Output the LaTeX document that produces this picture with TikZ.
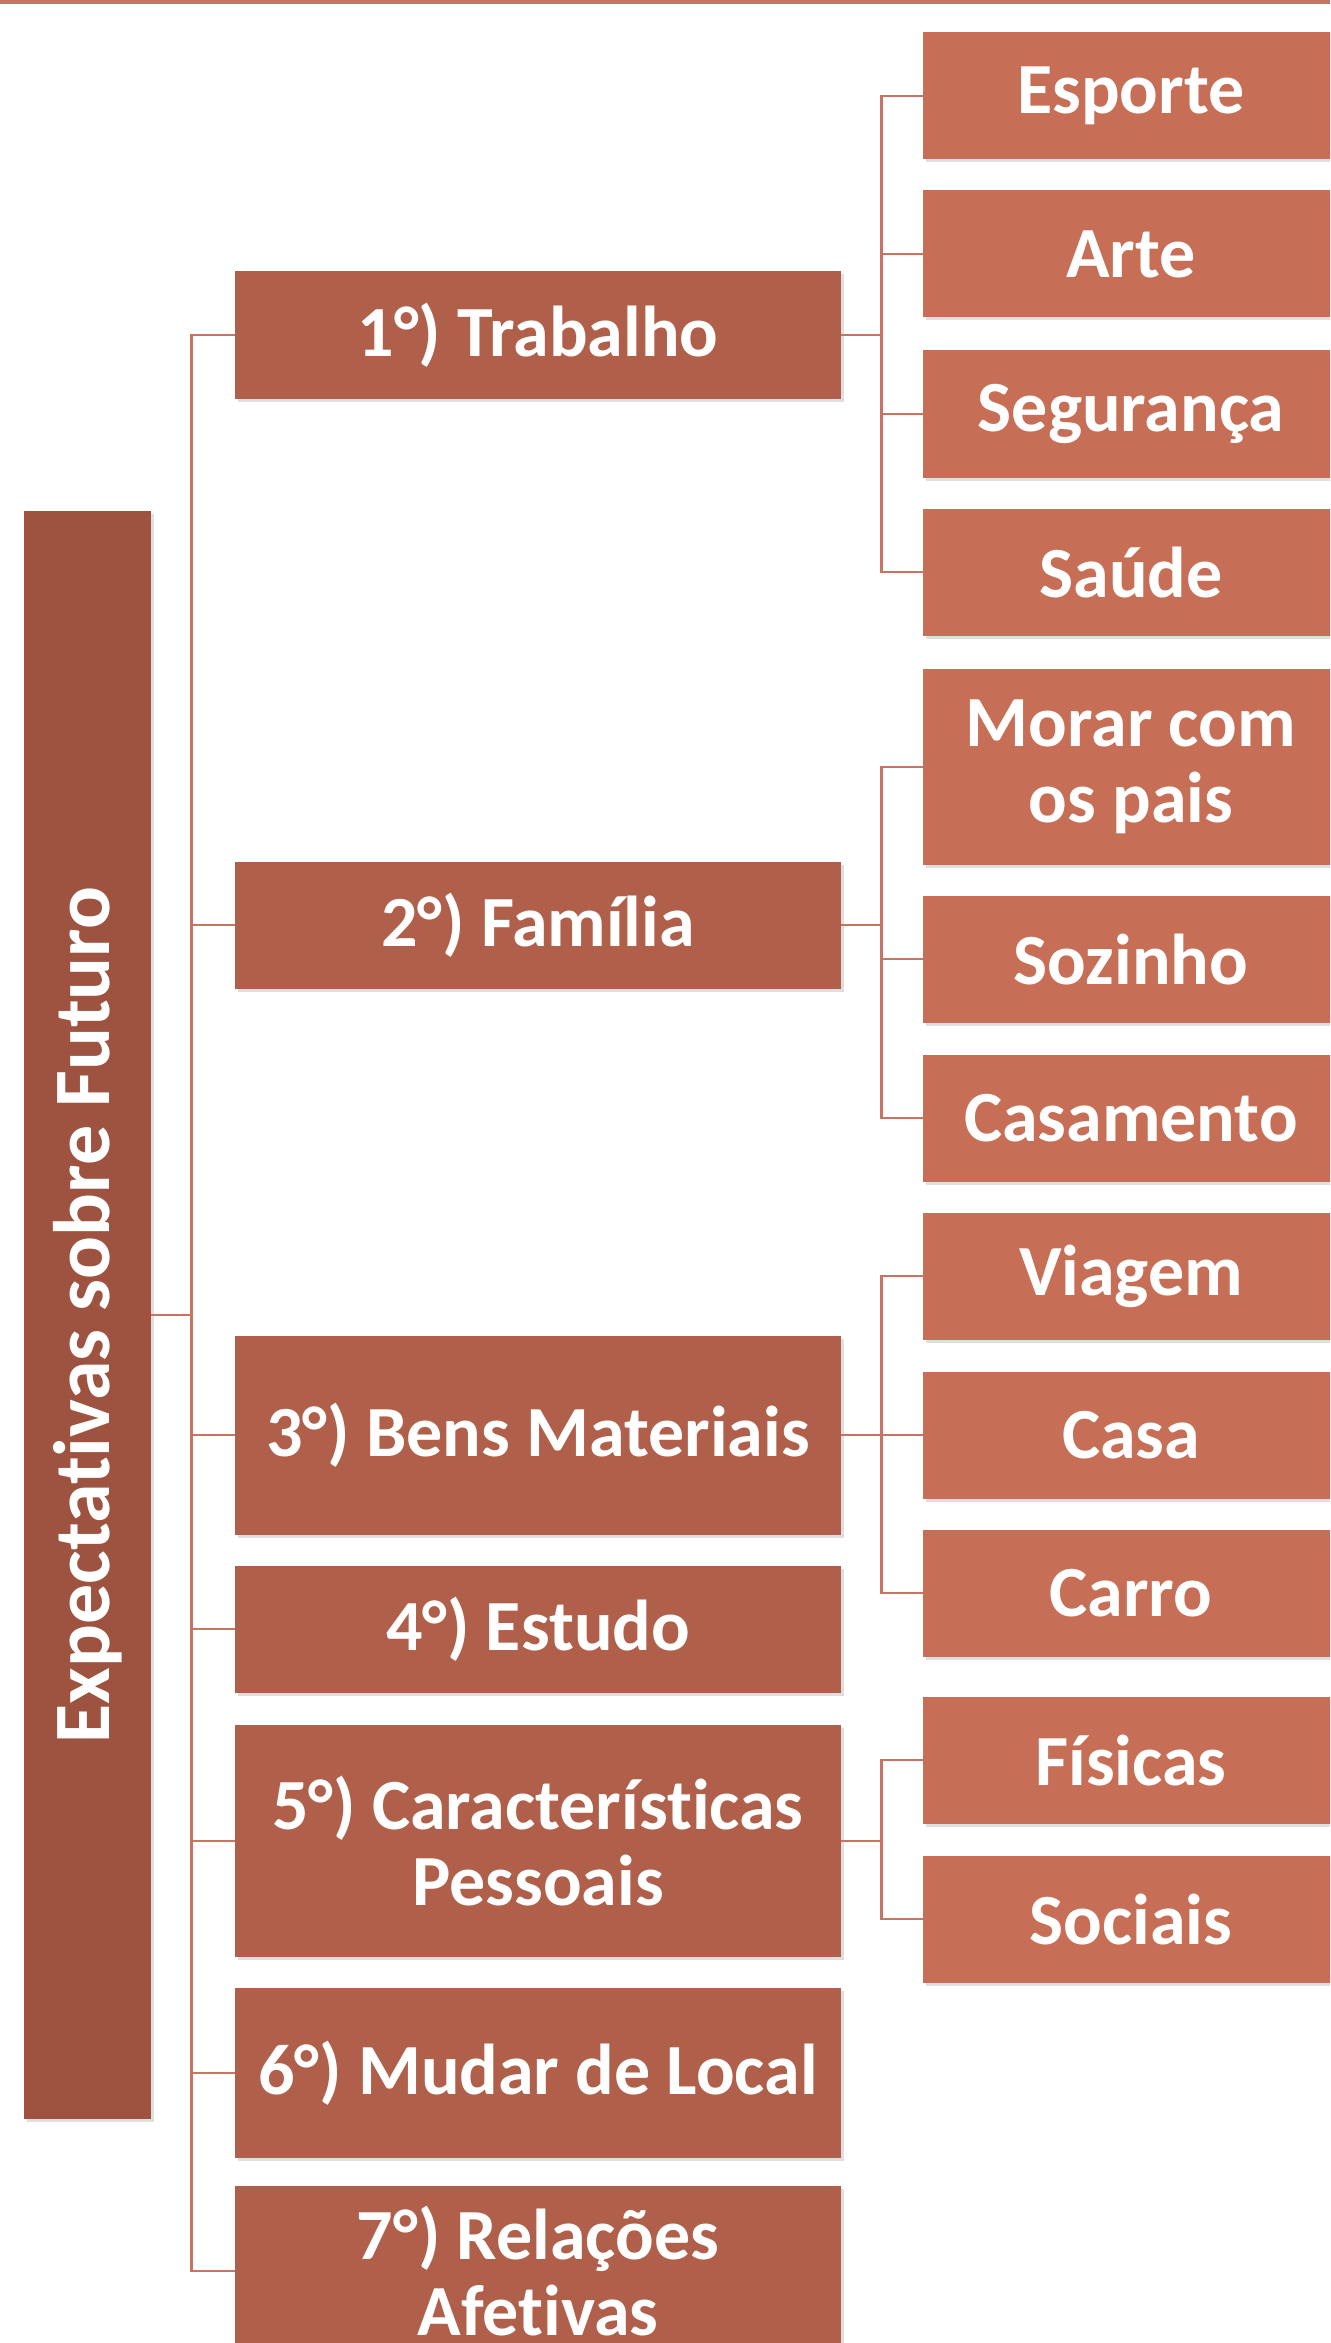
\documentclass[tikz,border=0pt]{standalone}
\usepackage{fontspec}
\setmainfont{Carlito}
\usetikzlibrary{shadows}

\definecolor{rootcol}{HTML}{9E5341}
\definecolor{topiccol}{HTML}{B0604A}
\definecolor{itemcol}{HTML}{C76E56}
\definecolor{linecol}{HTML}{C87462}
% t and i without the ligature
\newcommand{\tnoi}{t\kern0pt i}

\begin{document}
\begin{tikzpicture}[x=0.5pt,y=-0.5pt,
	box/.style={text=white,font=\bfseries\fontsize{36}{38}\selectfont,align=center,inner sep=0pt,
		drop shadow={shadow xshift=1.5pt,shadow yshift=-1.5pt,opacity=0.25}},
	root/.style={fill=rootcol,minimum width=63.5pt,minimum height=804pt,
		font=\bfseries\fontsize{40}{42}\selectfont},
	topic/.style={fill=topiccol,minimum width=303pt},
	item/.style={fill=itemcol,minimum width=208pt},
	conn/.style={draw=linecol,line width=1.3pt},
	elbow/.style={to path={-- ++(20pt,0) |- (\tikztotarget)}}]
	\useasboundingbox (0,0) rectangle (1330,2343);
	\clip (0,0) rectangle (1330,2343);

	\draw[linecol,line width=2pt] (0,2) -- (1330,2);

	\node[box,root] (root) at (87.5,1315) {\rotatebox{90}{Expecta\tnoi vas sobre Futuro}};

	\foreach \i/\y/\h/\txt in {1/335/63.5/{1°) Trabalho}, 2/925/63.5/{2°) Família},
			3/1435/99.5/{3°) Bens Materiais}, 4/1629/63.5/{4°) Estudo},
			5/1841/116/{5°) Caracterís\tnoi cas\\Pessoais}, 6/2073/85/{6°) Mudar de Local},
			7/2271/85/{7°) Relações\\Afe\tnoi vas}} {
			\node[box,topic,minimum height=\h pt] (topic\i) at (538,\y) {\txt};
			\draw[conn] (root.east) to[elbow] (topic\i.west);
		}

	\foreach \i/\y/\h/\p/\txt in {1/96/63.5/1/Esporte, 2/254/63.5/1/Arte,
			3/414/63.5/1/Segurança, 4/572/63.5/1/Saúde,
			5/767/98/2/{Morar com\\os pais}, 6/959/63.5/2/Sozinho, 7/1118/63.5/2/Casamento,
			8/1276/63.5/3/Viagem, 9/1435/63.5/3/Casa, 10/1593/63.5/3/Carro,
			11/1760/63.5/5/Físicas, 12/1919/63.5/5/Sociais} {
			\node[box,item,minimum height=\h pt] (item\i) at (1131,\y) {\txt};
			\draw[conn] (topic\p.east) to[elbow] (item\i.west);
		}
\end{tikzpicture}
\end{document}
